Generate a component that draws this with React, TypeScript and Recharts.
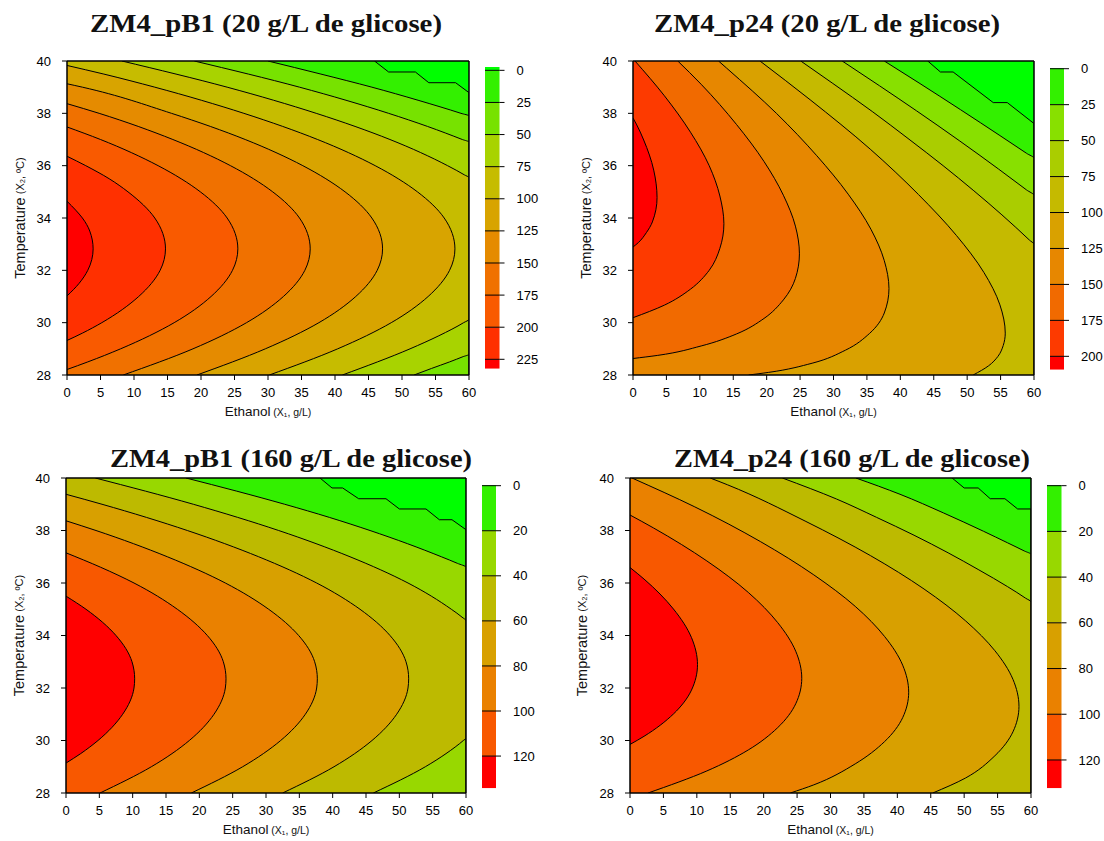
import { Area, CartesianGrid, ComposedChart, ReferenceLine, XAxis, YAxis } from 'recharts';

type Pt = [number, number]; // [temperature ºC, ethanol g/L] along one contour line

const ETHANOL_TICKS = [0, 5, 10, 15, 20, 25, 30, 35, 40, 45, 50, 55, 60];
const TEMP_TICKS = [28, 30, 32, 34, 36, 38, 40];

// ---- ZM4_pB1, 20 g/L glicose ----
const PB1_20_LEVELS = [0, 25, 50, 75, 100, 125, 150, 175, 200, 225];
const PB1_20_RANGE: [number, number] = [-2.6, 232.3];
const PB1_20_COLORS = ['#00ff00', '#33f000', '#77e200', '#a8d300', '#c6bc00', '#d8a400', '#e58b00', '#f07100', '#f95a00', '#ff3000', '#ff0000'];
const PB1_20_LINES: Pt[][] = [
  [[28, 60], [38.79, 60], [39.17, 58], [39.17, 54], [39.58, 52], [39.58, 48], [40, 45.9]],
  [[28, 60], [37.9, 60], [38, 58.8], [38.5, 52.4], [39, 45.5], [39.5, 37.9], [40, 30.0]],
  [[28, 51.8], [28.25, 54.4], [28.5, 57.1], [28.7, 59.1], [28.79, 60], [36.9, 60], [37, 59.0], [37.5, 53.8], [38, 48.0], [39, 34.7], [40, 19.0]],
  [[28, 41.1], [29, 51.2], [29.5, 55.5], [30, 59.2], [30.13, 60], [35.54, 60], [35.65, 59.3], [36, 56.8], [37, 48.2], [38, 37.2], [39, 23.9], [40, 8.2]],
  [[28, 30.2], [29, 40.4], [30, 48.4], [31, 53.9], [32, 57.1], [32.82, 57.9], [34, 56.3], [35, 52.3], [36, 46.0], [37, 37.4], [38, 26.4], [39, 13.1], [39.5, 5.5], [39.83, 0]],
  [[28, 19.4], [29, 29.6], [30, 37.6], [31, 43.1], [32, 46.3], [32.82, 47.1], [34, 45.5], [35, 41.5], [36, 35.2], [37, 26.6], [38, 15.6], [39, 2.3], [39.13, 0]],
  [[28, 8.4], [29, 18.8], [30, 26.8], [31, 32.3], [32, 35.5], [32.82, 36.3], [34, 34.7], [35, 30.7], [36, 24.4], [37, 15.8], [38, 4.8], [38.37, 0]],
  [[28.21, 0], [28.5, 3.1], [29, 8.0], [30, 16.0], [31, 21.5], [32, 24.7], [32.82, 25.5], [34, 23.9], [35, 19.9], [36, 13.6], [37, 5.0], [37.48, 0]],
  [[29.32, 0], [29.6, 2.3], [30, 5.2], [31, 10.7], [32, 13.9], [32.82, 14.7], [34, 13.1], [35, 9.1], [35.5, 6.3], [36, 2.8], [36.36, 0]],
  [[31.02, 0], [31.5, 1.8], [32, 3.1], [32.82, 3.9], [33.5, 3.4], [34, 2.3], [34.3, 1.3], [34.64, 0]],
];

// ---- ZM4_p24, 20 g/L glicose ----
const P24_20_LEVELS = [0, 25, 50, 75, 100, 125, 150, 175, 200];
const P24_20_RANGE: [number, number] = [-0.5, 209.3];
const P24_20_COLORS = ['#00ff00', '#33f000', '#88e000', '#aacd00', '#c5ba00', '#d9a100', '#e78700', '#f16a00', '#fd3a00', '#ff0000'];
const P24_20_LINES: Pt[][] = [
  [[28, 60], [37.61, 60], [38.41, 56.0], [38.41, 53.9], [39.58, 47.9], [39.58, 46.0], [40, 44.1]],
  [[28, 60], [36.28, 60], [36.47, 58.9], [37.15, 54.9], [38.14, 49.0], [39.16, 42.8], [40, 37.6]],
  [[28, 60], [34.86, 60], [35.07, 58.9], [35.87, 54.7], [36.96, 48.8], [38.1, 42.4], [39.05, 36.9], [40, 31.3]],
  [[28, 60], [32.99, 60], [33.16, 59.3], [34.12, 55.2], [35.04, 51.0], [36.0, 46.4], [37.01, 41.3], [38.07, 35.8], [39.16, 29.8], [40, 25.1]],
  [[28, 50.9], [28.35, 53.2], [28.71, 54.6], [29.13, 55.4], [29.6, 55.7], [30.68, 54.9], [31.92, 52.5], [33.33, 48.4], [34.9, 42.7], [36.63, 35.5], [38.52, 26.5], [40, 19.0]],
  [[28, 17.3], [28.1, 20.3], [28.45, 26.8], [28.95, 31.8], [29.59, 35.4], [30.37, 37.6], [31.3, 38.3], [32.37, 37.6], [33.57, 35.6], [34.91, 32.2], [36.38, 27.5], [37.99, 21.5], [39.73, 14.0], [40, 12.8]],
  [[28.63, 0], [28.75, 3.7], [29.11, 10.2], [29.57, 15.5], [30.16, 19.6], [30.87, 22.5], [31.69, 24.3], [32.63, 24.9], [33.69, 24.3], [34.87, 22.5], [36.16, 19.6], [37.57, 15.5], [39.11, 10.2], [40, 6.7]],
  [[30.19, 0], [30.67, 4.7], [31.28, 8.6], [32.0, 11.4], [32.84, 13.0], [33.78, 13.6], [34.84, 13.0], [36.0, 11.4], [37.28, 8.6], [38.67, 4.7], [40, 0.3]],
  [[32.89, 0], [33.06, 0.8], [33.44, 2.0], [33.85, 2.9], [34.78, 3.6], [35.83, 3.1], [36.98, 1.6], [37.59, 0.5], [37.82, 0]],
];

// ---- ZM4_pB1, 160 g/L glicose ----
const PB1_160_LEVELS = [0, 20, 40, 60, 80, 100, 120];
const PB1_160_RANGE: [number, number] = [-0.3, 134.3];
const PB1_160_COLORS = ['#00ff00', '#33f000', '#98d800', '#bdba00', '#d8a000', '#ea8100', '#f85800', '#ff0000'];
const PB1_160_LINES: Pt[][] = [
  [[28, 60], [38.03, 60], [38.41, 57.9], [38.41, 56.0], [38.82, 54.0], [38.82, 50.0], [39.21, 48.0], [39.21, 43.9], [39.62, 41.5], [39.62, 39.9], [40, 38.1]],
  [[28, 60], [36.6, 60], [36.75, 58.7], [37, 56.3], [37.5, 51.2], [38, 45.6], [38.5, 39.5], [39, 32.8], [39.5, 25.6], [40, 18.0]],
  [[28, 46.1], [29, 53.9], [29.5, 57.0], [30, 59.6], [30.09, 60], [34.56, 60], [34.7, 59.4], [35, 57.8], [36, 51.3], [37, 42.6], [38, 31.9], [39, 19.1], [40, 4.4]],
  [[28, 32.5], [29, 40.2], [30, 45.9], [31, 49.6], [32, 51.3], [32.35, 51.4], [33, 51.0], [34, 48.6], [35, 44.1], [36, 37.6], [37, 28.9], [38, 18.2], [39, 5.4], [39.38, 0]],
  [[28, 18.8], [29, 26.5], [30, 32.2], [31, 35.9], [32, 37.6], [32.35, 37.7], [33, 37.3], [34, 34.9], [35, 30.4], [36, 23.9], [37, 15.2], [38, 4.5], [38.37, 0]],
  [[28, 5.1], [29, 12.8], [30, 18.5], [31, 22.2], [32, 23.9], [32.35, 24.0], [33, 23.6], [34, 21.2], [35, 16.7], [36, 10.2], [36.6, 5.2], [37.15, 0]],
  [[29.14, 0], [29.5, 2.2], [30, 4.8], [31, 8.5], [32, 10.2], [32.35, 10.3], [33, 9.9], [34, 7.5], [35, 3.0], [35.5, 0]],
];

// ---- ZM4_p24, 160 g/L glicose ----
const P24_160_LEVELS = [0, 20, 40, 60, 80, 100, 120];
const P24_160_RANGE: [number, number] = [-0.3, 132.4];
const P24_160_COLORS = ['#00ff00', '#33f000', '#98d800', '#bdba00', '#d8a000', '#ea8100', '#f85800', '#ff0000'];
const P24_160_LINES: Pt[][] = [
  [[28, 60], [38.82, 60], [38.82, 58.0], [39.21, 56.1], [39.21, 53.9], [39.62, 52.1], [39.62, 50.0], [40, 48.2]],
  [[28, 60], [37.09, 60], [37.22, 59.0], [37.53, 56.5], [37.97, 52.9], [38.67, 46.9], [39.38, 40.4], [40, 33.8]],
  [[28, 60], [35.28, 60], [35.42, 59.2], [35.86, 56.5], [36.5, 52.2], [37.15, 47.6], [37.82, 42.5], [38.5, 36.9], [39.2, 30.9], [40, 22.8]],
  [[28, 45.3], [28.57, 50.2], [29.42, 54.6], [30.33, 57.3], [31.3, 58.2], [32.33, 57.3], [33.42, 54.6], [34.56, 50.2], [35.77, 44.0], [37.04, 36.0], [38.36, 26.2], [39.74, 14.6], [40, 12.0]],
  [[28, 24.0], [28.31, 27.5], [29.11, 33.7], [29.96, 38.1], [30.87, 40.8], [31.84, 41.7], [32.87, 40.8], [33.96, 38.1], [35.11, 33.7], [36.31, 27.5], [37.58, 19.5], [38.9, 9.7], [40, 0.3]],
  [[28, 2.7], [28.84, 11.5], [29.64, 17.7], [30.49, 22.1], [31.4, 24.8], [32.37, 25.7], [33.4, 24.8], [34.49, 22.1], [35.64, 17.7], [36.84, 11.5], [38.1, 3.5], [38.59, 0]],
  [[29.85, 0], [30.16, 2.1], [31.01, 6.5], [31.92, 9.2], [32.89, 10.1], [33.92, 9.2], [35.01, 6.5], [36.15, 2.1], [36.59, 0]],
];

const SANS = '"Liberation Sans", Arial, Helvetica, sans-serif';
const SERIF = '"Liberation Serif", "Times New Roman", serif';
const Y_AXIS_W = 67;
const tickFont = { fill: '#000', fontSize: 13, fontFamily: SANS };

type Box = { x: number; y: number; w: number; h: number };

function ContourPanel({ box, levels, lines, colors }: { box: Box; levels: number[]; lines: Pt[][]; colors: string[] }) {
  return (
    <div style={{ position: 'absolute', left: box.x - Y_AXIS_W, top: box.y - 10 }}>
      <ComposedChart
        layout="vertical"
        width={Y_AXIS_W + box.w + 10}
        height={box.h + 60}
        margin={{ top: 10, right: 10, bottom: 0, left: 0 }}
      >
        <CartesianGrid horizontal={false} vertical={false} fill={colors[0]} />
        <XAxis
          type="number"
          domain={[0, 60]}
          ticks={ETHANOL_TICKS}
          interval={0}
          allowDataOverflow
          height={50}
          tickSize={5}
          tickMargin={8}
          axisLine={{ stroke: '#000', strokeWidth: 1.5 }}
          tickLine={{ stroke: '#000' }}
          tick={tickFont}
        />
        <YAxis
          type="number"
          dataKey="t"
          domain={[28, 40]}
          reversed
          ticks={TEMP_TICKS}
          interval={0}
          allowDataOverflow
          width={Y_AXIS_W}
          tickSize={5}
          tickMargin={11}
          axisLine={{ stroke: '#000', strokeWidth: 1.5 }}
          tickLine={{ stroke: '#000' }}
          tick={tickFont}
        />
        {lines.map((pts, i) => (
          <Area
            key={levels[i]}
            name={String(levels[i])}
            data={pts.map(([t, x]) => ({ t, x }))}
            dataKey="x"
            type={i === 0 ? 'linear' : 'monotone'}
            fill={colors[i + 1]}
            fillOpacity={1}
            stroke="#000"
            strokeWidth={1}
            dot={false}
            activeDot={false}
            isAnimationActive={false}
          />
        ))}
        <ReferenceLine x={60} stroke="#000" strokeWidth={1.5} />
        <ReferenceLine y={40} stroke="#000" strokeWidth={1.5} />
      </ComposedChart>
    </div>
  );
}

function ColorKey({ bar, range, levels, colors, ticks }: { bar: Box; range: [number, number]; levels: number[]; colors: string[]; ticks: number[] }) {
  const bounds = [range[0], ...levels, range[1]];
  return (
    <div style={{ position: 'absolute', left: bar.x, top: bar.y - 10 }}>
      <ComposedChart
        layout="vertical"
        width={bar.w + 45}
        height={bar.h + 20}
        margin={{ top: 10, right: 0, bottom: 10, left: 0 }}
      >
        <XAxis type="number" domain={[0, 1]} hide />
        <YAxis
          type="number"
          dataKey="z"
          orientation="right"
          domain={range}
          ticks={ticks}
          interval={0}
          allowDataOverflow
          width={45}
          tickSize={5}
          tickMargin={12}
          axisLine={false}
          tickLine={{ stroke: '#000' }}
          tick={tickFont}
        />
        {colors.map((c, i) => (
          <Area
            key={i}
            data={[{ z: bounds[i], w: 1 }, { z: bounds[i + 1], w: 1 }]}
            dataKey="w"
            type="linear"
            fill={c}
            fillOpacity={1}
            stroke="none"
            dot={false}
            activeDot={false}
            isAnimationActive={false}
          />
        ))}
        {ticks.map((v) => (
          <ReferenceLine key={v} y={v} stroke="#000" strokeWidth={1} />
        ))}
      </ComposedChart>
    </div>
  );
}

const PANELS = [
  {
    title: 'ZM4_pB1 (20 g/L de glicose)', titleX: 266, titleY: 32, titleW: 352,
    box: { x: 67, y: 61, w: 402, h: 314 }, bar: { x: 484.5, y: 67.3, w: 14.5, h: 301.7 },
    levels: PB1_20_LEVELS, lines: PB1_20_LINES, colors: PB1_20_COLORS, range: PB1_20_RANGE,
    yLabelX: 20,
  },
  {
    title: 'ZM4_p24 (20 g/L de glicose)', titleX: 827, titleY: 32, titleW: 346,
    box: { x: 633, y: 61, w: 401, h: 314 }, bar: { x: 1049.5, y: 67.6, w: 14, h: 301.7 },
    levels: P24_20_LEVELS, lines: P24_20_LINES, colors: P24_20_COLORS, range: P24_20_RANGE,
    yLabelX: 586,
  },
  {
    title: 'ZM4_pB1 (160 g/L de glicose)', titleX: 291, titleY: 467, titleW: 362,
    box: { x: 66, y: 478, w: 400, h: 315 }, bar: { x: 482, y: 485, w: 14, h: 303.3 },
    levels: PB1_160_LEVELS, lines: PB1_160_LINES, colors: PB1_160_COLORS, range: PB1_160_RANGE,
    yLabelX: 19,
  },
  {
    title: 'ZM4_p24 (160 g/L de glicose)', titleX: 852, titleY: 467, titleW: 356,
    box: { x: 630, y: 478, w: 401, h: 315 }, bar: { x: 1046.5, y: 485, w: 14.5, h: 303.3 },
    levels: P24_160_LEVELS, lines: P24_160_LINES, colors: P24_160_COLORS, range: P24_160_RANGE,
    yLabelX: 582,
  },
];

export default function App() {
  return (
    <div style={{ position: 'absolute', left: 0, top: 0, width: 1104, height: 841, background: '#fff', overflow: 'hidden' }}>
      {PANELS.map((p) => (
        <div key={p.title}>
          <ContourPanel box={p.box} levels={p.levels} lines={p.lines} colors={p.colors} />
          <ColorKey bar={p.bar} range={p.range} levels={p.levels} colors={p.colors} ticks={p.levels} />
        </div>
      ))}
      <svg width={1104} height={841} style={{ position: 'absolute', left: 0, top: 0, pointerEvents: 'none' }}>
        {PANELS.map((p) => (
          <g key={p.title}>
            <text
              x={p.titleX}
              y={p.titleY}
              textAnchor="middle"
              textLength={p.titleW}
              lengthAdjust="spacingAndGlyphs"
              fontFamily={SERIF}
              fontWeight="bold"
              fontSize={25}
              fill="#111"
            >
              {p.title}
            </text>
            <text x={p.box.x + p.box.w / 2} y={p.box.y + p.box.h + 41} textAnchor="middle" fontFamily={SANS} fill="#111">
              <tspan fontSize={13.5}>Ethanol</tspan>
              <tspan fontSize={10.5}> (X₁, g/L)</tspan>
            </text>
            <text
              transform={`translate(${p.yLabelX},${p.box.y + p.box.h / 2}) rotate(-90)`}
              textAnchor="middle"
              dominantBaseline="central"
              fontFamily={SANS}
              fontSize={14.5}
              fill="#111"
            >
              <tspan fontSize={14.5}>Temperature</tspan>
              <tspan fontSize={11}> (X₂, ºC)</tspan>
            </text>
          </g>
        ))}
      </svg>
    </div>
  );
}
